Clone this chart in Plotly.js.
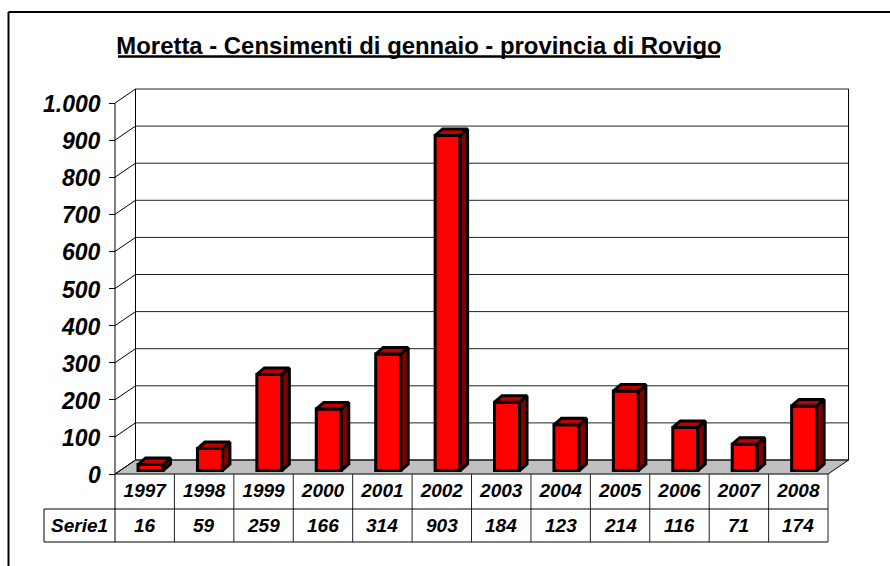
<!DOCTYPE html>
<html>
<head>
<meta charset="utf-8">
<script src="https://cdn.plot.ly/plotly-3.0.1.min.js"></script>
<style>html,body{margin:0;padding:0;background:#fff}</style>
</head>
<body>
<div id="chart" style="width:890px;height:566px"></div>
<script>
const years = ['1997','1998','1999','2000','2001','2002','2003','2004','2005','2006','2007','2008'];
const counts = [16,59,259,166,314,903,184,123,214,116,71,174];
const rowName = 'Serie1';
const titleText = 'Moretta - Censimenti di gennaio - provincia di Rovigo';
const yTicks = [0,100,200,300,400,500,600,700,800,900,1000];
const yTickLabels = ['0','100','200','300','400','500','600','700','800','900','1.000'];

// Scale: one category = 59.42 px, 1000 units = 371 px. The whole page is the plot area.
const W = 890, H = 566, catPx = 59.42, valPx = 0.371, x0Px = 115, y0Px = 474;
const xOf = p => (p - x0Px) / catPx - 0.5;
const yOf = p => (y0Px - p) / valPx;
const dxPx = v => v / catPx, dyPx = v => v / valPx;

const wallDX = dxPx(20.5), wallDY = dyPx(14);
const barW = dxPx(25), barShift = dxPx(5.8), barBase = dyPx(3.5);
const barDX = dxPx(7.5), barDY = dyPx(6.5);
const xL = -0.5, xR = 11.5;
const ink = '#000000';
const FONT = '"Liberation Sans", Arial, sans-serif';

const shapes = [];
const seg = (x1,y1,x2,y2,c,w,layer) => shapes.push({type:'line',xref:'x',yref:'y',x0:x1,y0:y1,x1:x2,y1:y2,line:{color:c||ink,width:w||1},layer:layer||'below'});

// chart frame
seg(xOf(8.5), yOf(12), xOf(890), yOf(12), ink, 2);
seg(xOf(8.5), yOf(12), xOf(8.5), yOf(566), ink, 2);
// title underline
seg(xOf(118), yOf(56.5), xOf(720), yOf(56.5), ink, 2.6, 'above');

// floor
shapes.push({type:'path',xref:'x',yref:'y',layer:'below',
  path:`M ${xL} 0 L ${xR} 0 L ${xR+wallDX} ${wallDY} L ${xL+wallDX} ${wallDY} Z`,
  fillcolor:'#c0c0c0',line:{color:ink,width:1}});

// walls and grid
yTicks.forEach(v => {
  seg(xL+wallDX, v+wallDY, xR+wallDX, v+wallDY, '#222222', 1);
  seg(xL, v, xL+wallDX, v+wallDY, ink, 1);
});
seg(xL, 0, xL, 1000);
seg(xL+wallDX, wallDY, xL+wallDX, 1000+wallDY);
seg(xR+wallDX, wallDY, xR+wallDX, 1000+wallDY);

// data table rules
const rowA = yOf(509), rowB = yOf(542), tableLeft = xOf(44);
seg(xL, 0, xL, rowB);
for (let i = 1; i <= years.length; i++) seg(xL+i, 0, xL+i, rowB, '#222222', 1);
seg(tableLeft, rowA, xR, rowA);
seg(tableLeft, rowB, xR, rowB);
seg(tableLeft, rowA, tableLeft, rowB);

const xs = years.map((_, i) => i);

// Top and side faces derived from the values
function facePoly(faceOf, color, name) {
  const x = [], y = [];
  counts.forEach((v, i) => {
    const f = faceOf(v, i);
    f.forEach(p => { x.push(p[0]); y.push(p[1]); });
    x.push(f[0][0], null); y.push(f[0][1], null);
  });
  return {type:'scatter',mode:'lines',x,y,fill:'toself',fillcolor:color,
          line:{color:ink,width:3},hoverinfo:'skip',showlegend:false,name};
}
const left = i => i + barShift - barW/2, right = i => i + barShift + barW/2;

const frontBars = {type:'bar',x:xs,y:counts,base:barBase,width:barW,offset:barShift-barW/2,
  marker:{color:'#ff0000',line:{color:ink,width:3}},showlegend:false,name:rowName};
const sideFaces = facePoly((v,i)=>[[right(i),barBase],[right(i)+barDX,barBase+barDY],[right(i)+barDX,barBase+v+barDY],[right(i),barBase+v]],'#800000','side');
const topFaces = facePoly((v,i)=>[[left(i),barBase+v],[right(i),barBase+v],[right(i)+barDX,barBase+v+barDY],[left(i)+barDX,barBase+v+barDY]],'#c00000','top');

const cellFont = {family:FONT,size:19,color:ink,weight:'bold',style:'italic'};
const annotations = counts.map((v,i) => ({xref:'x',yref:'y',x:i,y:(rowA+rowB)/2,text:String(v),showarrow:false,font:cellFont,xanchor:'center',yanchor:'middle'}));
annotations.push({xref:'x',yref:'y',x:(tableLeft+xL)/2,y:(rowA+rowB)/2,text:rowName,showarrow:false,font:cellFont,xanchor:'center',yanchor:'middle'});
yTicks.forEach((v,i) => annotations.push({xref:'x',yref:'y',x:xOf(103),y:v,yshift:-1,text:yTickLabels[i],showarrow:false,
  font:{...cellFont,size:23},xanchor:'right',yanchor:'middle'}));

const layout = {
  width:W,height:H,margin:{l:0,r:0,t:0,b:0,pad:0},
  paper_bgcolor:'#ffffff',plot_bgcolor:'#ffffff',
  bargap:0,showlegend:false,
  title:{text:titleText,x:419/W,xanchor:'center',y:1-46/H,yanchor:'middle',
         font:{family:FONT,size:23.9,color:ink,weight:'bold'}},
  xaxis:{range:[xOf(0),xOf(W)],anchor:'free',position:1-y0Px/H,showgrid:false,zeroline:false,showline:false,
         tickmode:'array',tickvals:xs,ticktext:years,ticks:'',ticklabelstandoff:3,
         tickfont:cellFont,fixedrange:true},
  yaxis:{range:[yOf(H),yOf(0)],anchor:'free',position:x0Px/W,showgrid:false,zeroline:false,showline:false,
         tickmode:'array',tickvals:yTicks,showticklabels:false,
         ticks:'outside',ticklen:6,tickwidth:1,tickcolor:ink,fixedrange:true},
  shapes,annotations
};
Plotly.newPlot('chart',[frontBars,sideFaces,topFaces],layout,{displayModeBar:false,staticPlot:true});
</script>
</body>
</html>
